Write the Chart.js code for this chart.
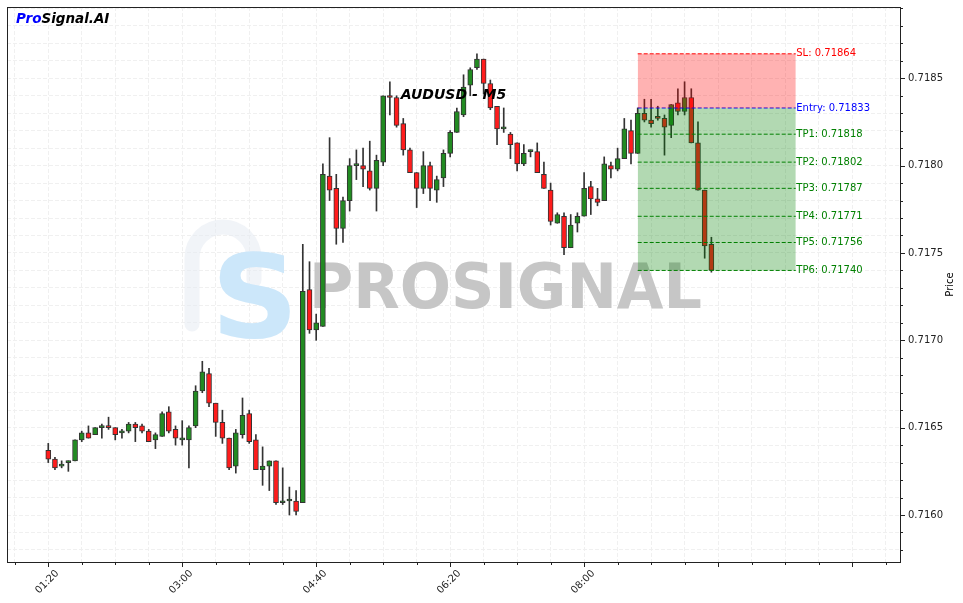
<!DOCTYPE html>
<html>
<head>
<meta charset="utf-8">
<script src="https://cdn.jsdelivr.net/npm/chart.js@4/dist/chart.umd.min.js"></script>
<style>
  html, body { margin: 0; padding: 0; background: #ffffff; }
  #wrap { width: 963px; height: 603px; position: relative; }
</style>
</head>
<body>
<div id="wrap"><canvas id="c" width="963" height="603"></canvas></div>
<script>
// ---------------- DATA ----------------
const times = [
  '01:20','01:25','01:30','01:35','01:40','01:45','01:50','01:55','02:00','02:05',
  '02:10','02:15','02:20','02:25','02:30','02:35','02:40','02:45','02:50','02:55',
  '03:00','03:05','03:10','03:15','03:20','03:25','03:30','03:35','03:40','03:45',
  '03:50','03:55','04:00','04:05','04:10','04:15','04:20','04:25','04:30','04:35',
  '04:40','04:45','04:50','04:55','05:00','05:05','05:10','05:15','05:20','05:25',
  '05:30','05:35','05:40','05:45','05:50','05:55','06:00','06:05','06:10','06:15',
  '06:20','06:25','06:30','06:35','06:40','06:45','06:50','06:55','07:00','07:05',
  '07:10','07:15','07:20','07:25','07:30','07:35','07:40','07:45','07:50','07:55',
  '08:00','08:05','08:10','08:15','08:20','08:25','08:30','08:35','08:40','08:45',
  '08:50','08:55','09:00','09:05','09:10','09:15','09:20','09:25','09:30','09:35'
];
const opens = [
  0.71637,0.71632,0.71628,0.71630,0.71631,0.71643,0.71647,0.71646,0.71650,0.71651,
  0.71650,0.71647,0.71648,0.71652,0.71651,0.71648,0.71643,0.71645,0.71659,0.71649,
  0.71643,0.71643,0.71651,0.71671,0.71681,0.71664,0.71653,0.71644,0.71628,0.71646,
  0.71658,0.71643,0.71626,0.71628,0.71631,0.71607,0.71608,0.71608,0.71607,0.71729,
  0.71706,0.71708,0.71794,0.71787,0.71764,0.71780,0.71800,0.71800,0.71797,0.71787,
  0.71802,0.71840,0.71839,0.71824,0.71809,0.71796,0.71787,0.71800,0.71786,0.71793,
  0.71807,0.71819,0.71829,0.71846,0.71856,0.71861,0.71847,0.71834,0.71821,0.71818,
  0.71813,0.71801,0.71808,0.71808,0.71795,0.71786,0.71767,0.71771,0.71753,0.71767,
  0.71771,0.71788,0.71781,0.71780,0.71800,0.71798,0.71804,0.71820,0.71807,0.71830,
  0.71826,0.71828,0.71827,0.71823,0.71836,0.71831,0.71839,0.71813,0.71786,0.71755
];
const highs = [
  0.71641,0.71633,0.71631,0.71631,0.71643,0.71648,0.71651,0.71650,0.71652,0.71656,
  0.71650,0.71649,0.71653,0.71653,0.71652,0.71649,0.71647,0.71659,0.71662,0.71651,
  0.71654,0.71651,0.71674,0.71688,0.71684,0.71664,0.71660,0.71644,0.71649,0.71667,
  0.71660,0.71646,0.71639,0.71631,0.71631,0.71627,0.71616,0.71614,0.71755,0.71745,
  0.71715,0.71801,0.71816,0.71795,0.71782,0.71804,0.71809,0.71810,0.71814,0.71806,
  0.71840,0.71848,0.71840,0.71827,0.71810,0.71796,0.71808,0.71802,0.71794,0.71809,
  0.71820,0.71833,0.71852,0.71856,0.71864,0.71861,0.71849,0.71834,0.71833,0.71819,
  0.71813,0.71812,0.71809,0.71813,0.71802,0.71790,0.71773,0.71773,0.71772,0.71773,
  0.71796,0.71791,0.71787,0.71805,0.71802,0.71810,0.71827,0.71826,0.71833,0.71838,
  0.71838,0.71834,0.71829,0.71835,0.71844,0.71848,0.71844,0.71825,0.71786,0.71759
];
const lows = [
  0.71630,0.71626,0.71627,0.71625,0.71631,0.71642,0.71644,0.71646,0.71644,0.71649,
  0.71643,0.71644,0.71647,0.71642,0.71647,0.71642,0.71638,0.71645,0.71647,0.71640,
  0.71640,0.71627,0.71650,0.71670,0.71662,0.71645,0.71641,0.71626,0.71624,0.71644,
  0.71641,0.71626,0.71617,0.71614,0.71606,0.71606,0.71600,0.71600,0.71607,0.71704,
  0.71700,0.71708,0.71780,0.71755,0.71756,0.71774,0.71792,0.71788,0.71786,0.71774,
  0.71800,0.71829,0.71822,0.71806,0.71796,0.71776,0.71784,0.71780,0.71779,0.71788,
  0.71805,0.71819,0.71828,0.71840,0.71855,0.71841,0.71832,0.71812,0.71819,0.71804,
  0.71797,0.71800,0.71805,0.71796,0.71787,0.71766,0.71767,0.71749,0.71753,0.71762,
  0.71771,0.71772,0.71777,0.71780,0.71793,0.71797,0.71804,0.71801,0.71807,0.71825,
  0.71822,0.71826,0.71806,0.71816,0.71829,0.71829,0.71813,0.71786,0.71747,0.71739
];
const closes = [
  0.71632,0.71627,0.71628,0.71631,0.71643,0.71647,0.71644,0.71650,0.71651,0.71650,
  0.71646,0.71648,0.71652,0.71650,0.71648,0.71642,0.71646,0.71658,0.71648,0.71644,
  0.71643,0.71650,0.71671,0.71682,0.71664,0.71653,0.71644,0.71627,0.71647,0.71657,
  0.71642,0.71626,0.71628,0.71631,0.71607,0.71607,0.71608,0.71602,0.71728,0.71706,
  0.71710,0.71795,0.71786,0.71764,0.71780,0.71800,0.71800,0.71798,0.71787,0.71803,
  0.71840,0.71839,0.71823,0.71809,0.71796,0.71787,0.71800,0.71787,0.71792,0.71807,
  0.71819,0.71831,0.71845,0.71855,0.71861,0.71847,0.71833,0.71821,0.71821,0.71812,
  0.71801,0.71807,0.71808,0.71796,0.71787,0.71768,0.71772,0.71753,0.71766,0.71771,
  0.71787,0.71781,0.71779,0.71801,0.71798,0.71804,0.71821,0.71807,0.71830,0.71826,
  0.71824,0.71827,0.71822,0.71835,0.71831,0.71839,0.71813,0.71786,0.71754,0.71740
];
const levelNames  = ['SL','Entry','TP1','TP2','TP3','TP4','TP5','TP6'];
const levelValues = [0.71864,0.71833,0.71818,0.71802,0.71787,0.71771,0.71756,0.71740];
const boxStart = '08:40';
const boxEnd   = '10:38';
const xTickLabels = ['01:20','03:00','04:40','06:20','08:00'];
const xUnlabeledMajors = ['09:40','11:20'];
const yTickLabels = ['0.7160','0.7165','0.7170','0.7175','0.7180','0.7185'];
const chartTitle = 'AUDUSD - M5';
const yTitle = 'Price';

// ---------------- HELPERS ----------------
const toMin = s => { const p = s.split(':').map(Number); return p[0]*60 + p[1]; };
const GREEN = '#228b22', RED = '#ff1c1c', EDGE = '#333333';
const levelColor = n => n === 'SL' ? '#ff0000' : (n === 'Entry' ? '#0000ff' : '#008000');

const xMajorVals = xTickLabels.concat(xUnlabeledMajors).map(toMin);
const xTickVals = [];
for (let m = 55; m <= 705; m += 25) xTickVals.push(m);
const yMajorVals = yTickLabels.map(Number);
const yTickVals = [];
for (let k = 7158; k <= 7189; k++) yTickVals.push(k / 10000);
const isYMajor = v => yMajorVals.some(t => Math.abs(t - v) < 1e-9);
const isXMajor = v => xMajorVals.includes(v);

const xs = times.map(toMin);
const wickData = xs.map((x, i) => ({ x, y: [lows[i], highs[i]] }));
const bodyData = xs.map((x, i) => ({ x, y: [opens[i], closes[i]] }));
const bodyColors = xs.map((x, i) => closes[i] >= opens[i] ? GREEN : RED);

const datasets = [
  { type: 'bar', label: 'wick', data: wickData, backgroundColor: EDGE, borderWidth: 0,
    barThickness: 1, grouped: false, order: 10 },
  { type: 'bar', label: 'body', data: bodyData, backgroundColor: bodyColors, borderColor: EDGE,
    borderWidth: 1, borderSkipped: false, barThickness: 5, minBarLength: 2, grouped: false, order: 9 }
];
const ENTRY_INDEX = 2 + levelNames.indexOf('Entry');
levelNames.forEach((n, i) => {
  const ds = {
    type: 'line', label: n,
    data: [{ x: toMin(boxStart), y: levelValues[i] }, { x: toMin(boxEnd), y: levelValues[i] }],
    borderColor: levelColor(n), borderWidth: 1, borderDash: [4, 2],
    pointRadius: 0, fill: false, order: 0, tension: 0
  };
  if (n === 'SL') { ds.fill = ENTRY_INDEX; ds.backgroundColor = 'rgba(255,0,0,0.3)'; }
  if (n === 'TP6') { ds.fill = ENTRY_INDEX; ds.backgroundColor = 'rgba(0,128,0,0.3)'; }
  datasets.push(ds);
});

// ---------------- DECORATION PLUGIN ----------------
const decor = {
  id: 'decor',
  beforeDatasetsDraw(chart) {
    const ctx = chart.ctx, a = chart.chartArea;
    ctx.save();
    ctx.beginPath(); ctx.rect(a.left, a.top, a.right - a.left, a.bottom - a.top); ctx.clip();
    // logo outline (faint)
    ctx.strokeStyle = 'rgba(228,234,242,0.5)';
    ctx.lineWidth = 15; ctx.lineCap = 'round'; ctx.lineJoin = 'round';
    ctx.beginPath();
    ctx.moveTo(192, 324); ctx.lineTo(192, 258);
    ctx.arc(223, 258, 31, Math.PI, 0, false);
    ctx.lineTo(254, 280);
    ctx.stroke();
    // logo S
    ctx.fillStyle = '#cce7fa';
    ctx.font = 'bold 116px "DejaVu Sans"';
    ctx.textBaseline = 'alphabetic'; ctx.textAlign = 'left';
    ctx.save();
    ctx.translate(211, 337); ctx.scale(1.05, 1.0);
    ctx.fillText('S', 0, 0);
    ctx.restore();
    // watermark text
    ctx.fillStyle = '#c6c6c6';
    ctx.font = 'bold 63px "DejaVu Sans"';
    const tw = ctx.measureText('PROSIGNAL').width;
    ctx.save();
    ctx.translate(309, 308); ctx.scale(393 / tw, 1);
    ctx.fillText('PROSIGNAL', 0, 0);
    ctx.restore();
    ctx.restore();
  },
  afterDatasetsDraw(chart) {
    const ctx = chart.ctx, xS = chart.scales.x, yS = chart.scales.y;
    ctx.save();
    ctx.font = '10px "DejaVu Sans"';
    ctx.textAlign = 'left'; ctx.textBaseline = 'middle';
    const xe = xS.getPixelForValue(toMin(boxEnd)) + 0.5;
    levelNames.forEach((n, i) => {
      ctx.fillStyle = levelColor(n);
      ctx.fillText(n + ': ' + levelValues[i].toFixed(5), xe, yS.getPixelForValue(levelValues[i]));
    });
    ctx.restore();
  },
  afterDraw(chart) {
    const ctx = chart.ctx, a = chart.chartArea, xS = chart.scales.x, yS = chart.scales.y;
    ctx.save();
    // frame
    ctx.strokeStyle = '#222'; ctx.lineWidth = 1;
    ctx.strokeRect(Math.round(a.left) + 0.5, Math.round(a.top) + 0.5,
                   Math.round(a.right - a.left), Math.round(a.bottom - a.top));
    // tick marks
    ctx.beginPath();
    xTickVals.forEach(v => {
      const px = Math.round(xS.getPixelForValue(v)) + 0.5;
      const len = isXMajor(v) ? 4 : 2;
      ctx.moveTo(px, a.bottom + 1); ctx.lineTo(px, a.bottom + 1 + len);
    });
    yTickVals.forEach(v => {
      const py = Math.round(yS.getPixelForValue(v)) + 0.5;
      const len = isYMajor(v) ? 4 : 2;
      ctx.moveTo(a.right + 1, py); ctx.lineTo(a.right + 1 + len, py);
    });
    ctx.stroke();
    // x tick labels (rotated 45°, centred under tick)
    ctx.fillStyle = '#222';
    ctx.font = '10px "DejaVu Sans"';
    ctx.textAlign = 'center'; ctx.textBaseline = 'middle';
    xTickLabels.forEach(l => {
      const px = xS.getPixelForValue(toMin(l));
      ctx.save();
      ctx.translate(px - 1, a.bottom + 20);
      ctx.rotate(-Math.PI / 4);
      ctx.fillText(l, 0, 0);
      ctx.restore();
    });
    // title
    ctx.fillStyle = '#000';
    ctx.font = 'italic bold 14px "DejaVu Sans"';
    ctx.textAlign = 'center'; ctx.textBaseline = 'middle';
    ctx.fillText(chartTitle, (a.left + a.right) / 2, a.top + 0.16 * (a.bottom - a.top));
    // brand
    ctx.font = 'italic bold 13.5px "DejaVu Sans"';
    ctx.textAlign = 'left';
    const bx = a.left + 9, by = 19;
    ctx.fillStyle = '#0000ff'; ctx.fillText('Pro', bx, by);
    const w = ctx.measureText('Pro').width;
    ctx.fillStyle = '#000'; ctx.fillText('Signal.AI', bx + w, by);
    // y title
    ctx.font = '10px "DejaVu Sans"';
    ctx.translate(950, (a.top + a.bottom) / 2);
    ctx.rotate(-Math.PI / 2);
    ctx.textAlign = 'center'; ctx.textBaseline = 'middle';
    ctx.fillStyle = '#000';
    ctx.fillText(yTitle, 0, 0);
    ctx.restore();
  }
};

// ---------------- CHART ----------------
new Chart(document.getElementById('c'), {
  type: 'bar',
  data: { datasets },
  plugins: [decor],
  options: {
    responsive: false,
    animation: false,
    maintainAspectRatio: false,
    layout: { padding: { left: 7, top: 7, right: 0, bottom: 0 } },
    plugins: { legend: { display: false }, tooltip: { enabled: false }, title: { display: false } },
    scales: {
      x: {
        type: 'linear', min: 49.2, max: 715.8, offset: false,
        afterBuildTicks: s => { s.ticks = xTickVals.map(v => ({ value: v })); },
        afterFit: s => { s.height = 41; s.paddingLeft = 0; s.paddingRight = 0; },
        grid: { offset: false, color: '#f0f0f0', lineWidth: 1, drawTicks: false },
        border: { display: false, dash: [4, 2] },
        ticks: { display: false, autoSkip: false }
      },
      y: {
        type: 'linear', position: 'right', min: 0.715731, max: 0.718908,
        afterBuildTicks: s => { s.ticks = yTickVals.map(v => ({ value: v })); },
        afterFit: s => { s.width = 63; s.paddingTop = 0; s.paddingBottom = 0; },
        grid: { color: '#f0f0f0', lineWidth: 1, drawTicks: true, tickLength: 4, tickColor: 'rgba(0,0,0,0)' },
        border: { display: false, dash: [4, 2] },
        ticks: {
          autoSkip: false, padding: 4, color: '#222', font: { family: 'DejaVu Sans', size: 10 },
          callback: v => {
            const i = yMajorVals.findIndex(t => Math.abs(t - v) < 1e-9);
            return i >= 0 ? yTickLabels[i] : '';
          }
        }
      }
    }
  }
});
</script>
</body>
</html>
